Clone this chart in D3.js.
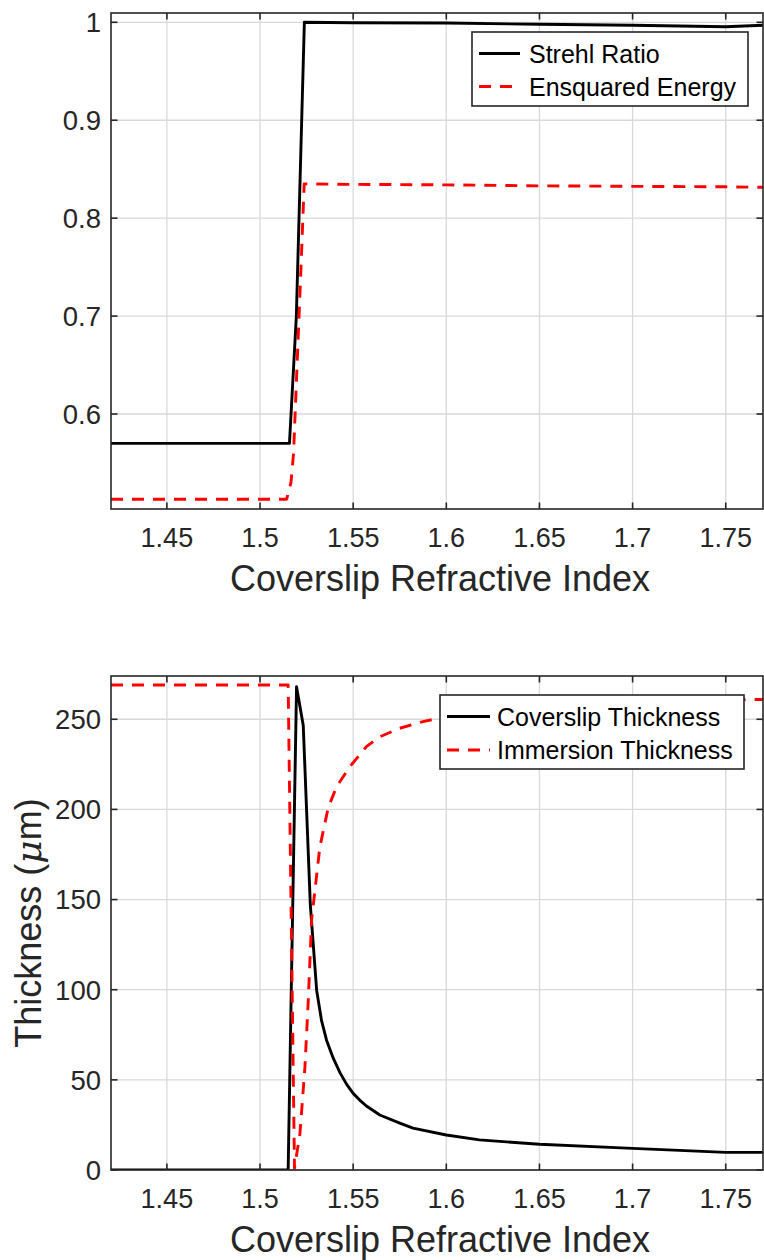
<!DOCTYPE html>
<html><head><meta charset="utf-8">
<script src="https://cdn.jsdelivr.net/npm/d3@7"></script>
<style>body{margin:0;background:#fff}</style>
</head><body>
<svg id="c" width="764" height="1260" xmlns="http://www.w3.org/2000/svg"></svg>
<script>
// ---------- data ----------
const xTicks = [1.45, 1.5, 1.55, 1.6, 1.65, 1.7, 1.75];
const xTickLabels = ["1.45", "1.5", "1.55", "1.6", "1.65", "1.7", "1.75"];
const topYTicks = [0.6, 0.7, 0.8, 0.9, 1];
const topYTickLabels = ["0.6", "0.7", "0.8", "0.9", "1"];
const botYTicks = [0, 50, 100, 150, 200, 250];
const botYTickLabels = ["0", "50", "100", "150", "200", "250"];

const strehlX = [1.42, 1.5158, 1.5195, 1.5238, 1.55, 1.60, 1.65, 1.70, 1.75, 1.77];
const strehlY = [0.57, 0.57, 0.70, 1.0, 0.9995, 0.9993, 0.998, 0.997, 0.9955, 0.997];

const eeX = [1.42, 1.5143, 1.5166, 1.518, 1.5222, 1.5237, 1.55, 1.60, 1.65, 1.70, 1.75, 1.77];
const eeY = [0.513, 0.513, 0.53, 0.56, 0.76, 0.835, 0.8345, 0.834, 0.833, 0.8325, 0.832, 0.8315];

const coverX = [1.42, 1.5151, 1.5196, 1.5232, 1.5270, 1.5304, 1.5330, 1.5357, 1.5393, 1.5429,
  1.5465, 1.5500, 1.5535, 1.5571, 1.5643, 1.5750, 1.5821, 1.6000, 1.6178, 1.6500, 1.7000, 1.7500, 1.7700];
const coverY = [0, 0, 268, 246.5, 147, 99.6, 83, 72, 62, 54,
  47.5, 42.5, 38.8, 35.5, 30.5, 26.0, 23.2, 19.4, 16.7, 14.3, 12.0, 9.8, 9.8];

const immX = [1.42, 1.5151, 1.5185, 1.5214, 1.5241, 1.5259, 1.5277, 1.5321, 1.5366, 1.5411,
  1.5482, 1.5571, 1.5643, 1.575, 1.5875, 1.60, 1.625, 1.65, 1.70, 1.75, 1.77];
const immY = [269, 269, 1, 20, 57, 94, 139, 179, 201, 212.6,
  223.7, 234.8, 240.3, 245, 248.7, 251.5, 255, 257.5, 259.5, 260.8, 261];

const topLegend = ["Strehl Ratio", "Ensquared Energy"];
const botLegend = ["Coverslip Thickness", "Immersion Thickness"];
const xLabel = "Coverslip Refractive Index";

// ---------- drawing ----------
const svg = d3.select("#c");
const FONT = "'Liberation Sans', Arial, Helvetica, sans-serif";
const TXT = "#262626";
const LW = 2.9;

function panel(o) {
  const x = d3.scaleLinear().domain([1.42, 1.77]).range([o.left, o.right]);
  const y = d3.scaleLinear().domain(o.yDomain).range([o.bottom, o.top]);
  const g = svg.append("g");

  // grid
  g.selectAll(".gx").data(o.xTicks).enter().append("line")
    .attr("x1", d => x(d)).attr("x2", d => x(d))
    .attr("y1", o.top).attr("y2", o.bottom)
    .attr("stroke", "#d9d9d9").attr("stroke-width", 1.3);
  g.selectAll(".gy").data(o.yTicks).enter().append("line")
    .attr("y1", d => y(d)).attr("y2", d => y(d))
    .attr("x1", o.left).attr("x2", o.right)
    .attr("stroke", "#d9d9d9").attr("stroke-width", 1.3);

  // series
  const clipId = "clip" + o.id;
  svg.append("clipPath").attr("id", clipId).append("rect")
    .attr("x", o.left).attr("y", o.top).attr("width", o.right - o.left).attr("height", o.bottom - o.top);
  const line = d3.line().x(d => x(d[0])).y(d => y(d[1]));
  o.series.forEach(s => {
    const pts = s.xs.map((v, i) => [v, s.ys[i]]);
    g.append("path").attr("d", line(pts)).attr("fill", "none")
      .attr("clip-path", `url(#${clipId})`)
      .attr("stroke", s.color).attr("stroke-width", LW)
      .attr("stroke-linejoin", "round")
      .attr("stroke-dasharray", s.dash || null);
  });

  // axes box
  const tl = 6.5;
  g.append("rect").attr("x", o.left).attr("y", o.top)
    .attr("width", o.right - o.left).attr("height", o.bottom - o.top)
    .attr("fill", "none").attr("stroke", TXT).attr("stroke-width", 1.6);
  o.xTicks.forEach(t => {
    g.append("line").attr("x1", x(t)).attr("x2", x(t)).attr("y1", o.bottom).attr("y2", o.bottom - tl)
      .attr("stroke", TXT).attr("stroke-width", 1.6);
    g.append("line").attr("x1", x(t)).attr("x2", x(t)).attr("y1", o.top).attr("y2", o.top + tl)
      .attr("stroke", TXT).attr("stroke-width", 1.6);
  });
  o.yTicks.forEach(t => {
    g.append("line").attr("y1", y(t)).attr("y2", y(t)).attr("x1", o.left).attr("x2", o.left + tl)
      .attr("stroke", TXT).attr("stroke-width", 1.6);
    g.append("line").attr("y1", y(t)).attr("y2", y(t)).attr("x1", o.right).attr("x2", o.right - tl)
      .attr("stroke", TXT).attr("stroke-width", 1.6);
  });

  // tick labels
  g.selectAll(".xl").data(o.xTicks).enter().append("text")
    .attr("x", d => x(d)).attr("y", o.bottom + 38)
    .attr("text-anchor", "middle").attr("font-family", FONT).attr("font-size", 27)
    .attr("fill", TXT).text((d, i) => o.xTickLabels[i]);
  g.selectAll(".yl").data(o.yTicks).enter().append("text")
    .attr("x", o.left - 10).attr("y", d => y(d)).attr("dy", "0.36em")
    .attr("text-anchor", "end").attr("font-family", FONT).attr("font-size", 27.5)
    .attr("fill", TXT).text((d, i) => o.yTickLabels[i]);

  // x label
  g.append("text").attr("x", 440).attr("y", o.bottom + 82)
    .attr("text-anchor", "middle").attr("font-family", FONT).attr("font-size", 36)
    .attr("fill", TXT).text(xLabel);

  // legend
  const L = o.legend;
  g.append("rect").attr("x", L.x0).attr("y", L.y0).attr("width", L.x1 - L.x0).attr("height", L.y1 - L.y0)
    .attr("fill", "#fff").attr("stroke", TXT).attr("stroke-width", 1.6);
  o.series.forEach((s, i) => {
    const ry = L.rows[i];
    g.append("line").attr("x1", L.lx0).attr("x2", L.lx1).attr("y1", ry).attr("y2", ry)
      .attr("stroke", s.color).attr("stroke-width", LW).attr("stroke-dasharray", s.dash || null);
    g.append("text").attr("x", L.tx).attr("y", ry).attr("dy", "0.36em")
      .attr("font-family", FONT).attr("font-size", 25).attr("fill", "#000").text(s.name);
  });
  return {x, y};
}

panel({
  id: "top", left: 111, right: 763, top: 13, bottom: 509,
  yDomain: [0.503, 1.0095],
  xTicks, xTickLabels, yTicks: topYTicks, yTickLabels: topYTickLabels,
  series: [
    {name: topLegend[0], xs: strehlX, ys: strehlY, color: "#000"},
    {name: topLegend[1], xs: eeX, ys: eeY, color: "#ff0000", dash: "12,9"}
  ],
  legend: {x0: 472, x1: 748, y0: 32, y1: 106, rows: [53.5, 86.5], lx0: 479, lx1: 520, tx: 529}
});

panel({
  id: "bot", left: 111, right: 763, top: 676, bottom: 1170,
  yDomain: [0, 274],
  xTicks, xTickLabels, yTicks: botYTicks, yTickLabels: botYTickLabels,
  series: [
    {name: botLegend[0], xs: coverX, ys: coverY, color: "#000"},
    {name: botLegend[1], xs: immX, ys: immY, color: "#ff0000", dash: "12,9"}
  ],
  legend: {x0: 440, x1: 744, y0: 695, y1: 769, rows: [716.5, 750], lx0: 447, lx1: 490, tx: 497}
});

// y label of bottom panel
const yl = svg.append("text")
  .attr("transform", "translate(41,923) rotate(-90)")
  .attr("text-anchor", "middle").attr("font-family", FONT).attr("font-size", 36).attr("fill", TXT);
yl.append("tspan").text("Thickness (");
yl.append("tspan").attr("font-style", "italic").attr("font-family", "'DejaVu Serif', 'Liberation Serif', serif").text("μ");
yl.append("tspan").text("m)");
</script>
</body></html>
